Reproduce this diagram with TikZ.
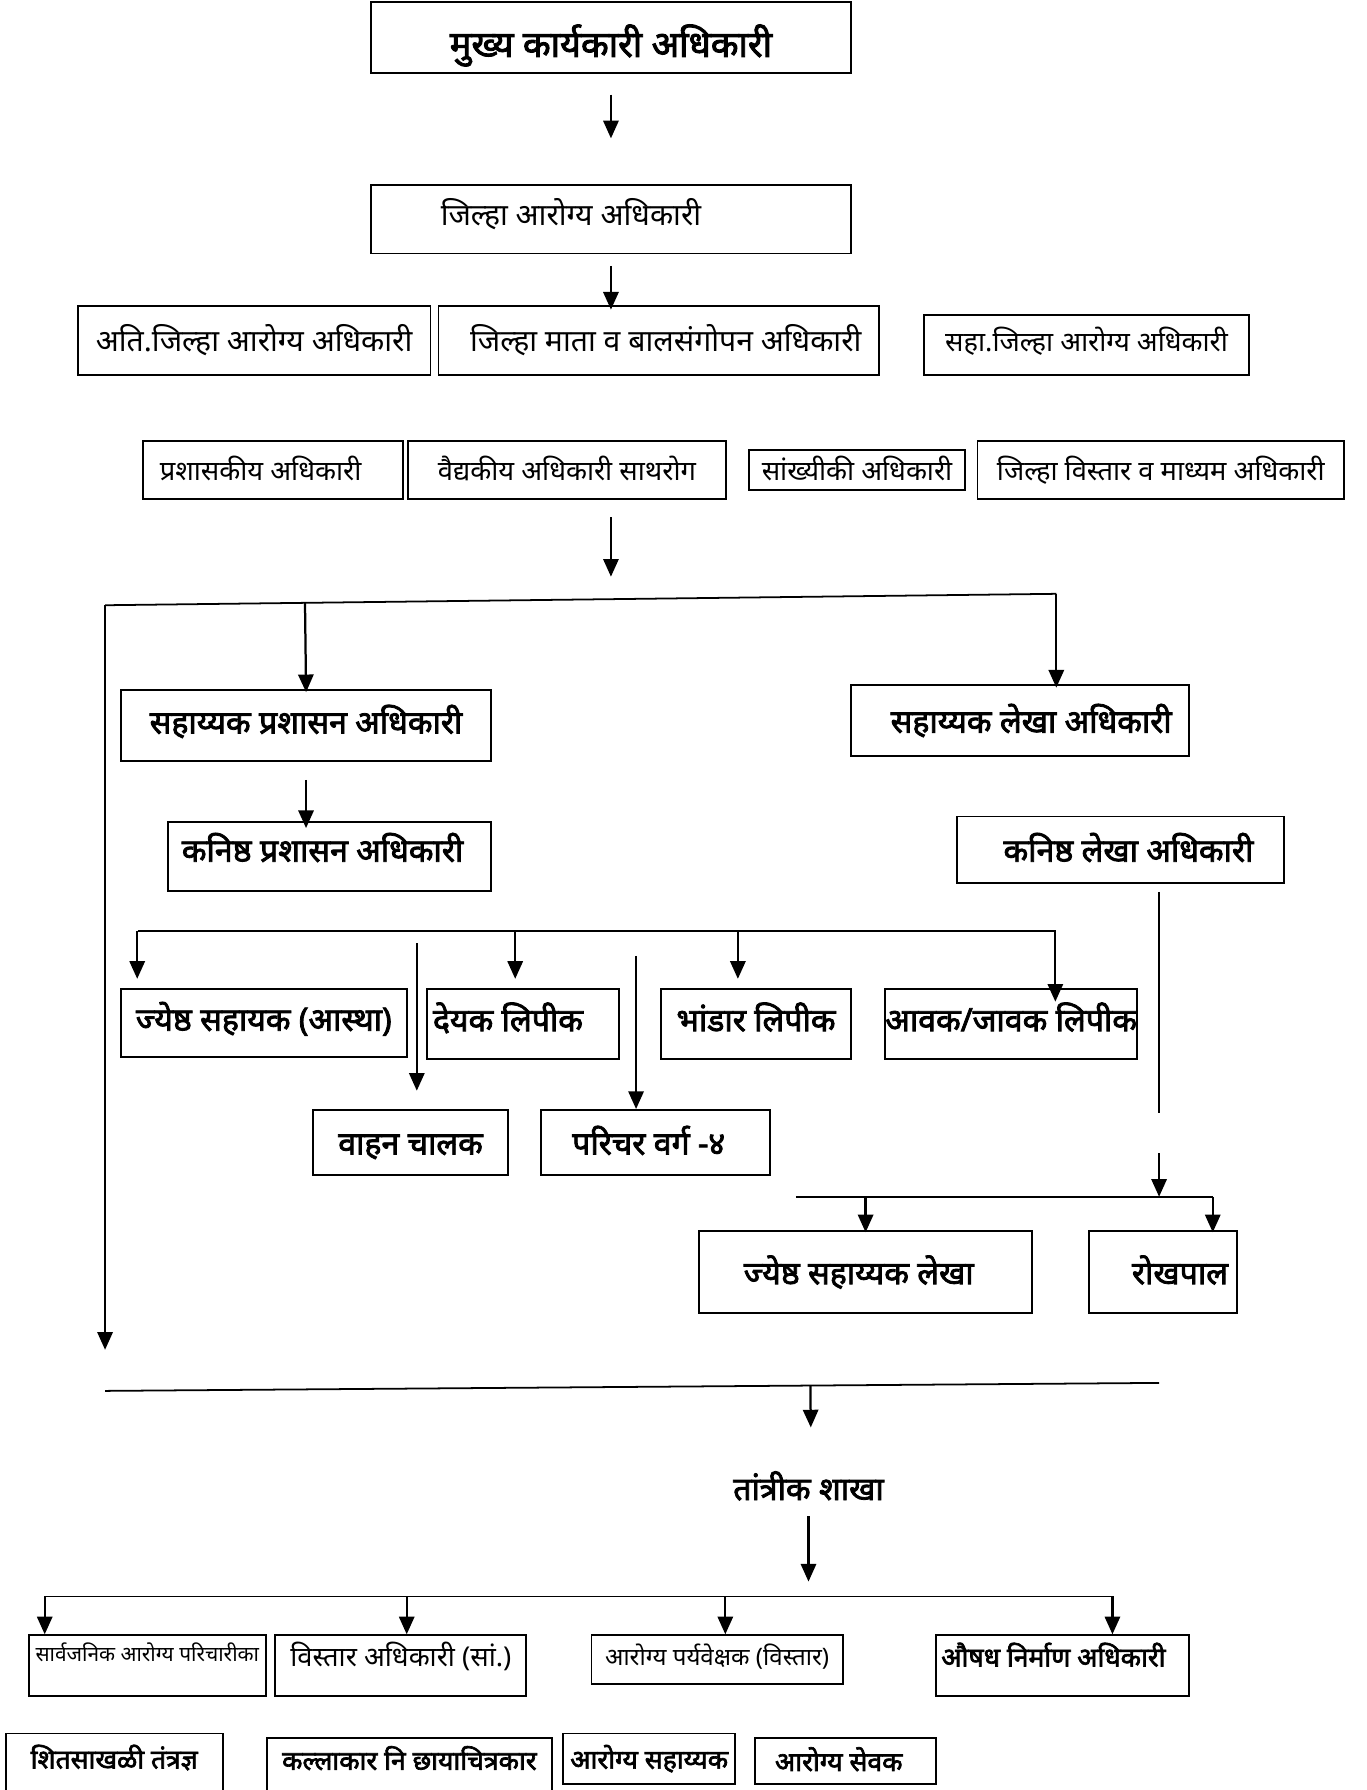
\documentclass[tikz,border=0pt]{standalone}
\usepackage{fontspec}
\newfontfamily\devfont[Script=Devanagari]{Noto Sans}
\newfontfamily\devbold[Script=Devanagari, FakeBold=2.5]{Noto Sans}
\usetikzlibrary{arrows.meta,fit,calc}

\tikzset{
  box/.style={draw=black, line width=1.2pt, inner sep=0pt},
  bus/.style={draw=black, line width=1.1pt},
  arr/.style={draw=black, line width=1.4pt, -{Triangle[length=11pt,width=9.5pt]}},
  lbl/.style={font=\devfont\fontsize{17}{20}\selectfont, text height=13pt, text depth=0pt, inner sep=0pt},
  biglbl/.style={font=\devfont\fontsize{18.8}{22}\selectfont, text height=14pt, text depth=0pt, inner sep=0pt},
  small/.style={font=\devfont\fontsize{13}{16}\selectfont, text height=10pt, text depth=0pt, inner sep=0pt},
  mid/.style={font=\devfont\fontsize{15}{18}\selectfont, text height=11.5pt, text depth=0pt, inner sep=0pt},
  blbl/.style={font=\devbold\fontsize{20}{24}\selectfont, text height=15pt, text depth=0pt, inner sep=0pt},
  bsmall/.style={font=\devbold\fontsize{16.5}{20}\selectfont, text height=12.5pt, text depth=0pt, inner sep=0pt},
  title/.style={font=\devbold\fontsize{22.5}{27}\selectfont, text height=17pt, text depth=0pt, inner sep=0pt},
}

\begin{document}
\begin{tikzpicture}[x=0.025cm, y=-0.025cm]
\useasboundingbox (0,0) rectangle (1197,1567.5);

% upper offices
\node[box, fit={(325,2) (745,64)}, label={[title, yshift=-0.12cm]center:मुख्य कार्यकारी अधिकारी}] (ceo) {};
\node[box, fit={(325,162) (745,222)}, label={[biglbl, xshift=-0.875cm, yshift=0.12cm]center:जिल्हा आरोग्य अधिकारी}] (dho) {};
\node[box, fit={(68,268) (377,328)}, label={[biglbl]center:अति.जिल्हा आरोग्य अधिकारी}] (adho) {};
\node[box, fit={(384,268) (770,328)}, label={[biglbl, xshift=0.15cm]center:जिल्हा माता व बालसंगोपन अधिकारी}] (mcho) {};
\node[box, fit={(809,276) (1094,328)}, label={[lbl, yshift=0.08cm]center:सहा.जिल्हा आरोग्य अधिकारी}] (sdho) {};
\node[box, fit={(125,386) (353,437)}, label={[lbl, xshift=-0.27cm]center:प्रशासकीय अधिकारी}] (admo) {};
\node[box, fit={(357,386) (636,437)}, label={[lbl]center:वैद्यकीय अधिकारी साथरोग}] (epmo) {};
\node[box, fit={(656,394) (845,429)}, label={[lbl]center:सांख्यीकी अधिकारी}] (stato) {};
\node[box, fit={(856,386) (1177,437)}, label={[lbl]center:जिल्हा विस्तार व माध्यम अधिकारी}] (iemo) {};

\draw[arr, shorten <=0.45cm, shorten >=1cm] (ceo.south) -- (dho.north);
\draw[arr, shorten <=0.25cm, shorten >=-0.1cm] (dho.south) -- (dho.south |- mcho.north);

% administration and accounts
\coordinate (split) at (535,505);
\coordinate (busL) at (92,530);
\coordinate (busR) at (925,520);
\coordinate (leftEnd) at (92,1182);
\draw[arr, shorten <=0.375cm] (epmo.south -| split) -- (split);
\draw[bus] (busL) -- (busR);
\draw[arr] (busL) -- (leftEnd);

\node[box, fit={(106,604) (430,666)}, label={[blbl, yshift=0.08cm]center:सहाय्यक प्रशासन अधिकारी}] (asao) {};
\node[box, fit={(745,600) (1041,662)}, label={[blbl, xshift=0.25cm]center:सहाय्यक लेखा अधिकारी}] (asac) {};
\node[box, fit={(147,720) (430,780)}, label={[blbl, xshift=-0.15cm, yshift=0.15cm]center:कनिष्ठ प्रशासन अधिकारी}] (jrao) {};
\node[box, fit={(838,715) (1124,773)}, label={[blbl, xshift=0.18cm]center:कनिष्ठ लेखा अधिकारी}] (jrac) {};

\draw[arr, shorten >=-0.075cm] ($(busL)!(asao.north)!(busR)$) -- (asao.north);
\draw[arr, shorten >=-0.075cm] (busR) -- (busR |- asac.north);
\draw[arr, shorten <=0.4cm, shorten >=-0.15cm] (asao.south) -- (asao.south |- jrao.north);

% clerks
\node[box, fit={(106,866) (356,926)}, label={[blbl, yshift=0.1cm]center:ज्येष्ठ सहायक (आस्था)}] (srast) {};
\node[box, fit={(374,866) (542,927)}, label={[blbl, xshift=-0.33cm, yshift=0.1cm]center:देयक लिपीक}] (bill) {};
\node[box, fit={(579,866) (745,927)}, label={[blbl, yshift=0.1cm]center:भांडार लिपीक}] (store) {};
\node[box, fit={(775,866) (996,927)}, label={[blbl, yshift=0.1cm]center:आवक/जावक लिपीक}] (inout) {};
\node[box, fit={(274,972) (445,1029)}, label={[blbl]center:वाहन चालक}] (driver) {};
\node[box, fit={(474,972) (674,1029)}, label={[blbl, xshift=-0.15cm]center:परिचर वर्ग -४}] (peon) {};

\coordinate (bus2L) at (121,815);
\coordinate (bus2R) at (925,815);
\draw[bus] (bus2L) -- (bus2R);
\foreach \n/\dx/\s in {srast/15/0.2, bill/78/0.2, store/68/0.2, inout/150/-0.3}{
  \coordinate (foot) at ($(\n.north west)+(\dx,0)$);
  \draw[arr, shorten >=\s cm] (foot |- bus2L) -- (foot);
}
\coordinate (drvTop) at (365,826);
\coordinate (peonTop) at (557,837);
\draw[arr, shorten >=0.4cm] (drvTop) -- (drvTop |- driver.north);
\draw[arr] (peonTop) -- (peonTop |- peon.north);

% accounts staff
\coordinate (accTop) at (1015,781);
\coordinate (accBot) at (1015,975);
\coordinate (accMid) at (1015,1010);
\coordinate (bus3L) at (697,1048);
\coordinate (bus3R) at (1062,1048);
\draw[bus] (accTop) -- (accBot);
\draw[arr] (accMid) -- (accMid |- bus3L);
\draw[bus] (bus3L) -- (bus3R);

\node[box, fit={(612,1078) (904,1150)}, label={[blbl, xshift=-0.15cm]center:ज्येष्ठ सहाय्यक लेखा}] (sracc) {};
\node[box, fit={(954,1078) (1083,1150)}, label={[blbl, xshift=0.37cm]center:रोखपाल}] (cash) {};
\draw[arr, shorten >=-0.05cm] (bus3L -| sracc.north) -- (sracc.north);
\draw[arr, shorten >=-0.05cm] (bus3R) -- (bus3R |- cash.north);

% technical branch
\coordinate (bus4L) at (92,1218);
\coordinate (bus4R) at (1015,1211);
\coordinate (techIn) at (710,1250);
\draw[bus] (bus4L) -- (bus4R);
\draw[arr] ($(bus4L)!(techIn)!(bus4R)$) -- (techIn);
\node[blbl] (tech) at (708,1303) {तांत्रीक शाखा};

\coordinate (bus5L) at (40,1398);
\coordinate (bus5R) at (975,1398);
\draw[arr, shorten <=0.35cm, shorten >=0.325cm] (tech.south) -- (tech.south |- bus5L);
\draw[bus] (bus5L) -- (bus5R);

\node[box, fit={(25,1432) (233,1485)}, label={[small, yshift=0.27cm]center:सार्वजनिक आरोग्य परिचारीका}] (phn) {};
\node[box, fit={(241,1432) (461,1485)}, label={[lbl, yshift=0.2cm]center:विस्तार अधिकारी (सां.)}] (ext) {};
\node[box, fit={(518,1432) (738,1475)}, label={[mid, yshift=0.08cm]center:आरोग्य पर्यवेक्षक (विस्तार)}] (hsup) {};
\node[box, fit={(820,1432) (1041,1485)}, label={[bsmall, xshift=-0.2cm, yshift=0.2cm]center:औषध निर्माण अधिकारी}] (pharm) {};
\foreach \n/\dx in {phn/15, ext/116, hsup/118, pharm/155}{
  \coordinate (foot) at ($(\n.north west)+(\dx,0)$);
  \draw[arr] (foot |- bus5L) -- (foot);
}

\node[box, fit={(5,1518) (195,1568)}, label={[bsmall, yshift=0.08cm]center:शितसाखळी तंत्रज्ञ}] (cold) {};
\node[box, fit={(234,1522) (483,1568)}, label={[bsmall, yshift=0.1cm]center:कल्लाकार नि छायाचित्रकार}] (artist) {};
\node[box, fit={(493,1518) (644,1562)}, label={[bsmall]center:आरोग्य सहाय्यक}] (hasst) {};
\node[box, fit={(661,1522) (820,1562)}, label={[bsmall, xshift=-0.15cm]center:आरोग्य सेवक}] (hwork) {};
\end{tikzpicture}
\end{document}
